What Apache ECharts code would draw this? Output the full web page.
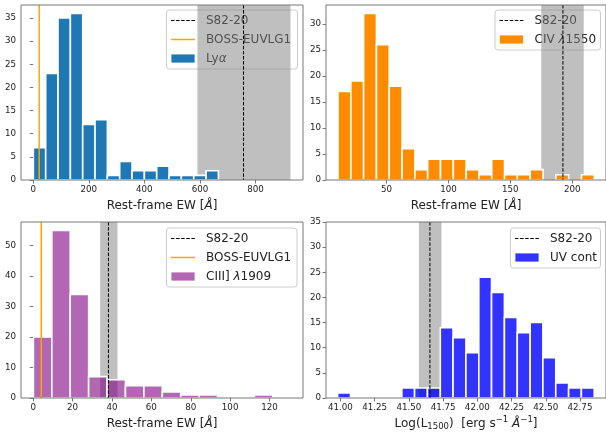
<!DOCTYPE html>
<html><head><meta charset="utf-8">
<script src="https://cdn.jsdelivr.net/npm/echarts@6/dist/echarts.min.js"></script>
<style>html,body{margin:0;padding:0;background:#fff}#c{width:606px;height:435px}</style>
</head><body><div id="c"></div>
<script>
// ---------- Data ----------
// Panel 1: Lyα rest-frame EW histogram
const lyaEdges  = [0.5, 44.9, 89.3, 133.7, 178.1, 222.5, 266.9, 311.3, 355.7, 400.1, 444.5, 488.9, 533.3, 577.7, 622.1, 666.5];
const lyaCounts = [7, 23, 35, 36, 12, 13, 1, 4, 2, 2, 3, 1, 1, 1, 2];
const lyaS82 = 757, lyaS82Band = [591, 926], lyaBoss = 21.5;
// Panel 2: CIV λ1550
const civEdges  = [10.8, 21.15, 31.5, 41.85, 52.2, 62.55, 72.9, 83.25, 93.6, 103.95, 114.3, 124.65, 135.0, 145.35, 155.7, 166.05, 176.4, 186.75, 197.1, 207.45, 217.8];
const civCounts = [17, 19, 32, 26, 18, 6, 2, 4, 4, 4, 2, 1, 4, 1, 1, 2, 0, 1, 0, 1];
const civS82 = 192.5, civS82Band = [175.0, 209.3];
// Panel 3: CIII] λ1909
const ciiiEdges  = [0.1, 9.45, 18.8, 28.15, 37.5, 46.85, 56.2, 65.55, 74.9, 84.25, 93.6, 102.95, 112.3, 121.65];
const ciiiCounts = [20, 55, 34, 7, 6, 4, 4, 2, 1, 1, 0, 0, 1];
const ciiiS82 = 38.2, ciiiS82Band = [34.0, 42.8], ciiiBoss = 4.1;
// Panel 4: UV continuum Log(L1500)
const uvEdges  = [40.98, 41.074, 41.167, 41.261, 41.355, 41.449, 41.542, 41.636, 41.730, 41.823, 41.917, 42.011, 42.104, 42.198, 42.292, 42.386, 42.479, 42.573, 42.667, 42.760, 42.854];
const uvCounts = [1, 0, 0, 0, 0, 2, 2, 2, 14, 12, 9, 24, 21, 16, 13, 15, 8, 3, 2, 2];
const uvS82 = 41.654, uvS82Band = [41.574, 41.738];
// Tick labels
const xTicks = [[0, 200, 400, 600, 800], [50, 100, 150, 200], [0, 20, 40, 60, 80, 100, 120], [41.00, 41.25, 41.50, 41.75, 42.00, 42.25, 42.50, 42.75]];
const yTicks = [[0, 5, 10, 15, 20, 25, 30, 35], [0, 5, 10, 15, 20, 25, 30], [0, 10, 20, 30, 40, 50], [0, 5, 10, 15, 20, 25, 30, 35]];
const xRanges = [[-44, 971], [1.1, 227.3], [-6.2, 137], [40.895, 42.94]];
const yRanges = [[0, 37.8], [0, 33.6], [0, 57.75], [0, 35]];

// ---------- Styling ----------
const FONT = 'DejaVu Sans';
const AX = '#777';
const TXT = '#222';
const BLUE = '#1f77b4', ORANGE = '#ff8c00', PURPLE = 'rgba(128,0,128,0.6)', UVBLUE = 'rgba(0,0,255,0.8)';
const BANDC = 'rgba(128,128,128,0.5)', BOSSC = '#ffa500';

const grids = [
  {left: 21, top: 5, width: 282, height: 175},
  {left: 326, top: 5, width: 282, height: 175},
  {left: 21, top: 222, width: 282, height: 176},
  {left: 326, top: 222, width: 282, height: 176}
].map(g => Object.assign(g, {show: true, borderColor: AX, borderWidth: 1, backgroundColor: 'transparent', z: 10}));

const xNames = ['Rest-frame EW [{i|Å}]', 'Rest-frame EW [{i|Å}]', 'Rest-frame EW [{i|Å}]', 'Log(L{sub|1500})  [erg s{sup|−1} {i|Å}{sup|−1}]'];
const nameGaps = [19.5, 19.5, 20, 17.5];

const xAxes = xRanges.map((r, i) => ({
  type: 'value', gridIndex: i, min: r[0], max: r[1], z: 10,
  name: xNames[i], nameLocation: 'middle', nameGap: nameGaps[i],
  nameTextStyle: {fontFamily: FONT, fontSize: 12, color: TXT, rich: {
    i: {fontFamily: FONT, fontSize: 12, fontStyle: 'italic', color: TXT},
    sub: {fontFamily: FONT, fontSize: 8.5, color: TXT, padding: [7, 0, 0, 0]},
    sup: {fontFamily: FONT, fontSize: 8.5, color: TXT, padding: [0, 0, 7, 0]}
  }},
  axisLine: {show: false},
  axisTick: {show: true, length: 3.5, lineStyle: {color: AX}, customValues: xTicks[i]},
  axisLabel: {fontFamily: FONT, fontSize: 8.7, color: TXT, margin: 5, customValues: xTicks[i],
    formatter: v => i === 3 ? v.toFixed(2) : String(v)},
  splitLine: {show: false}
}));
const yAxes = yRanges.map((r, i) => ({
  type: 'value', gridIndex: i, min: r[0], max: r[1], z: 10,
  axisLine: {show: false},
  axisTick: {show: true, length: 3.5, lineStyle: {color: AX}, customValues: yTicks[i]},
  axisLabel: {fontFamily: FONT, fontSize: 8.7, color: TXT, margin: 5, customValues: yTicks[i]},
  splitLine: {show: false}
}));

function histSeries(idx, edges, counts, fill) {
  const data = [];
  counts.forEach((c, k) => { if (c > 0) data.push([edges[k], edges[k + 1], c]); });
  return {
    type: 'custom', xAxisIndex: idx, yAxisIndex: idx, data, z: 3, silent: true,
    encode: {x: [0, 1], y: 2},
    renderItem(params, api) {
      const p0 = api.coord([api.value(0), 0]);
      const p1 = api.coord([api.value(1), api.value(2)]);
      return {type: 'rect', shape: {x: p0[0], y: p1[1], width: p1[0] - p0[0], height: p0[1] - p1[1]},
        style: {fill, stroke: '#fff', lineWidth: 1.6}};
    }
  };
}
function bandSeries(idx, band) {
  return {
    type: 'custom', xAxisIndex: idx, yAxisIndex: idx, data: [[band[0], band[1]]], z: 2, silent: true,
    encode: {x: [0, 1]},
    renderItem(params, api) {
      const cs = params.coordSys;
      const a = api.coord([api.value(0), 0])[0], b = api.coord([api.value(1), 0])[0];
      return {type: 'rect', shape: {x: a, y: cs.y, width: b - a, height: cs.height}, style: {fill: BANDC}};
    }
  };
}
function vlineSeries(idx, x, color, dashed, width, z) {
  return {
    type: 'custom', xAxisIndex: idx, yAxisIndex: idx, data: [[x]], z, silent: true,
    encode: {x: 0},
    renderItem(params, api) {
      const cs = params.coordSys;
      const px = api.coord([api.value(0), 0])[0];
      return {type: 'line', shape: {x1: px, y1: cs.y, x2: px, y2: cs.y + cs.height},
        style: {stroke: color, lineWidth: width, lineDash: dashed ? [3.5, 1.6] : null}};
    }
  };
}

const series = [
  bandSeries(0, lyaS82Band), histSeries(0, lyaEdges, lyaCounts, BLUE),
  vlineSeries(0, lyaS82, '#000', true, 1, 4), vlineSeries(0, lyaBoss, BOSSC, false, 1.5, 4),
  bandSeries(1, civS82Band), histSeries(1, civEdges, civCounts, ORANGE),
  vlineSeries(1, civS82, '#000', true, 1, 4),
  bandSeries(2, ciiiS82Band), histSeries(2, ciiiEdges, ciiiCounts, PURPLE),
  vlineSeries(2, ciiiS82, '#000', true, 1, 4), vlineSeries(2, ciiiBoss, BOSSC, false, 1.5, 4),
  bandSeries(3, uvS82Band), histSeries(3, uvEdges, uvCounts, UVBLUE),
  vlineSeries(3, uvS82, '#000', true, 1, 4)
];

// ---------- Legends (drawn as graphic groups) ----------
function legendBox(x, y, w, h, items) {
  const children = [{type: 'rect', shape: {x: 0, y: 0, width: w, height: h, r: 3},
    style: {fill: 'rgba(255,255,255,0.8)', stroke: '#ccc', lineWidth: 1}}];
  items.forEach((it, k) => {
    const cy = 10.5 + 19 * k;
    if (it.kind === 'dash') children.push({type: 'line', shape: {x1: 4.5, y1: cy, x2: 28.5, y2: cy}, style: {stroke: '#000', lineWidth: 1, lineDash: [3.5, 1.6]}});
    else if (it.kind === 'line') children.push({type: 'line', shape: {x1: 4.5, y1: cy, x2: 28.5, y2: cy}, style: {stroke: BOSSC, lineWidth: 1.5}});
    else children.push({type: 'rect', shape: {x: 4.5, y: cy - 4.5, width: 24, height: 9}, style: {fill: it.color, stroke: '#fff', lineWidth: 0.8}});
    children.push({type: 'text', x: 39.5, y: cy, style: {text: it.text, fontFamily: FONT, fontSize: 12, fill: TXT,
      verticalAlign: 'middle', align: 'left',
      rich: {i: {fontFamily: FONT, fontSize: 12, fontStyle: 'italic', fill: TXT}}}});
  });
  return {type: 'group', x, y, z: 100, children};
}
const graphic = [
  legendBox(166.5, 10, 131, 59, [{kind: 'dash', text: 'S82-20'}, {kind: 'line', text: 'BOSS-EUVLG1'}, {kind: 'rect', color: BLUE, text: 'Ly{i|α}'}]),
  legendBox(495, 10, 105.5, 40, [{kind: 'dash', text: 'S82-20'}, {kind: 'rect', color: ORANGE, text: 'CIV {i|λ}1550'}]),
  legendBox(166.5, 228, 130.5, 59, [{kind: 'dash', text: 'S82-20'}, {kind: 'line', text: 'BOSS-EUVLG1'}, {kind: 'rect', color: PURPLE, text: 'CIII] {i|λ}1909'}]),
  legendBox(510.5, 228, 90, 40, [{kind: 'dash', text: 'S82-20'}, {kind: 'rect', color: UVBLUE, text: 'UV cont'}])
];

const chart = echarts.init(document.getElementById('c'), null, {renderer: 'canvas'});
chart.setOption({animation: false, backgroundColor: '#fff', grid: grids, xAxis: xAxes, yAxis: yAxes, series, graphic});
</script></body></html>
